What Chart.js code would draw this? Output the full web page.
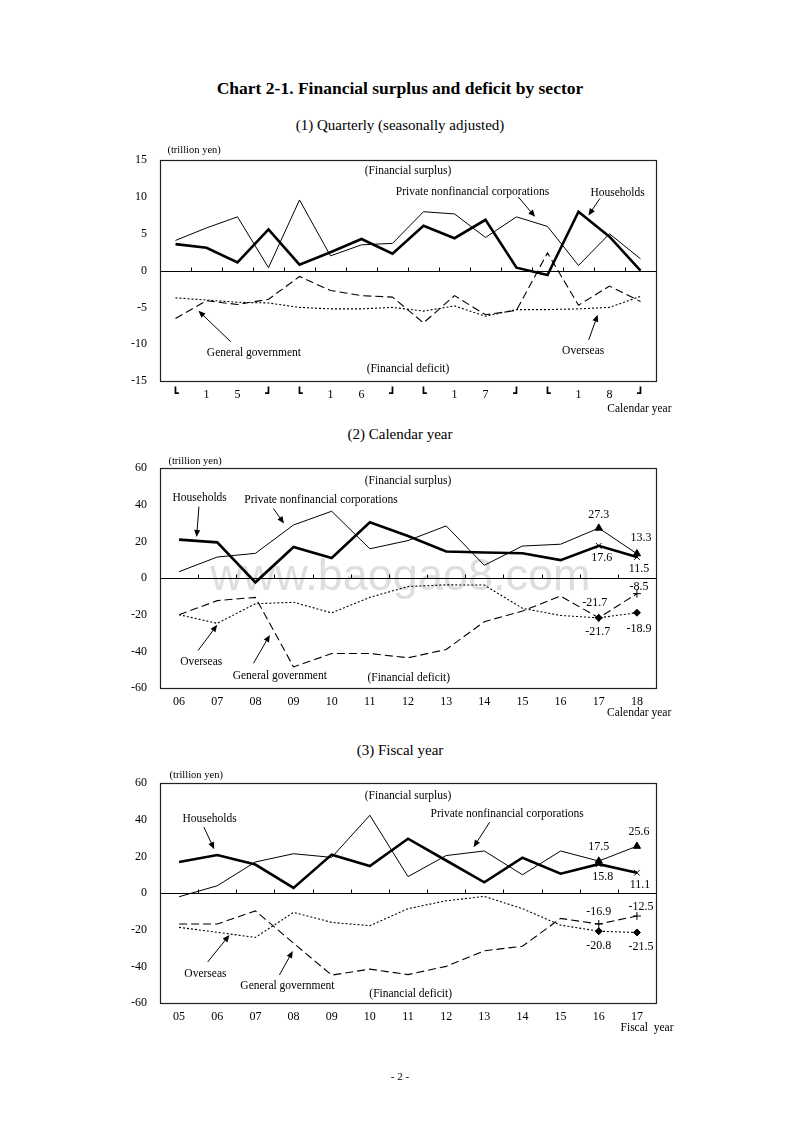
<!DOCTYPE html>
<html><head><meta charset="utf-8">
<script src="https://cdn.jsdelivr.net/npm/chart.js@4.4.1/dist/chart.umd.min.js"></script>
<style>
html,body{margin:0;padding:0;background:#fff;}
body{width:800px;height:1132px;position:relative;font-family:"Liberation Serif","Times New Roman",serif;color:#000;}
.t{position:absolute;left:0;width:800px;text-align:center;white-space:nowrap;}
.c{position:absolute;left:0;width:800px;}
</style></head><body>
<div class="t" style="top:78px;font-size:17.5px;font-weight:bold;">Chart 2-1. Financial surplus and deficit by sector</div>
<div class="t" style="top:117px;font-size:15px;">(1) Quarterly (seasonally adjusted)</div>
<div class="t" style="top:426px;font-size:15px;">(2) Calendar year</div>
<div class="t" style="top:742px;font-size:15px;">(3) Fiscal year</div>
<div class="t" style="top:1070px;font-size:11px;">- 2 -</div>
<div class="c" style="top:140px;height:285px;"><canvas id="c1"></canvas></div>
<div class="c" style="top:448px;height:284px;"><canvas id="c2"></canvas></div>
<div class="c" style="top:763px;height:284px;"><canvas id="c3"></canvas></div>
<script>
// ---------- DATA ----------
const qLabels = ['┗','1','5','┛','┗','1','6','┛','┗','1','7','┛','┗','1','8','┛'];
const qHouseholds   = [3.6,3.1,1.1,5.6,0.8,2.5,4.3,2.3,6.1,4.4,6.9,0.4,-0.6,8.0,4.6,0.0];
const qCorporations = [4.1,5.8,7.3,0.4,9.6,2.0,3.5,3.7,8.0,7.7,4.5,7.3,6.0,0.7,5.0,1.6];
const qGovernment   = [-6.5,-4.1,-4.6,-3.9,-0.8,-2.7,-3.4,-3.6,-7.1,-3.4,-6.0,-5.4,2.4,-4.7,-2.1,-4.2];
const qOverseas     = [-3.7,-4.0,-4.3,-4.4,-5.0,-5.2,-5.2,-5.0,-5.5,-4.8,-6.2,-5.3,-5.3,-5.2,-5.0,-3.5];
const qTicks = [-15,-10,-5,0,5,10,15];

const cyLabels = ['06','07','08','09','10','11','12','13','14','15','16','17','18'];
const cyHouseholds   = [21,19.5,-2.3,17,11,30.5,23,14.5,14,13.6,9.8,17.6,11.5];
const cyCorporations = [3.5,11.5,13.5,29,36.5,16,20.5,28.5,7,17.5,18.5,27.3,13.3];
const cyGovernment   = [-20,-12.3,-10.5,-48.5,-41.2,-41.2,-43.5,-39,-23.8,-18,-9.8,-21.7,-8.5];
const cyOverseas     = [-20,-24.7,-14,-13.2,-19,-10.5,-4.6,-3.7,-3.8,-16.5,-20.4,-21.7,-18.9];

const fyLabels = ['05','06','07','08','09','10','11','12','13','14','15','16','17'];
const fyHouseholds   = [17,20.8,15.6,2.8,21,14.8,29.7,17.8,5.9,19.3,10.6,15.8,11.1];
const fyCorporations = [-2,4,17,21.5,19.5,42.5,9,20.5,23,10,23,17.5,25.6];
const fyGovernment   = [-16.9,-16.9,-9.7,-27.3,-44.8,-41.5,-44.5,-40,-31.5,-29,-13.8,-16.9,-12.5];
const fyOverseas     = [-18.7,-21.4,-24.2,-10.5,-16,-17.8,-8.5,-4.2,-1.8,-8.5,-17.5,-20.8,-21.5];
const yearTicks = [-60,-40,-20,0,20,40,60];

// ---------- helpers ----------
const SERIF = '"Liberation Serif","Times New Roman",serif';
function radiusArr(n, r, count){ return Array.from({length:n},(_,i)=> i>=n-count ? r : 0); }

function datasets(h, c, g, o, markCount){
  const n = h.length;
  return [
    {label:'Private nonfinancial corporations', data:c, borderColor:'#000', backgroundColor:'#000', borderWidth:1,
     pointStyle:'triangle', pointRadius:radiusArr(n,4.2,markCount), pointBorderWidth:1},
    {label:'Households', data:h, borderColor:'#000', backgroundColor:'#000', borderWidth:2.6,
     pointStyle:'crossRot', pointRadius:radiusArr(n,4,markCount), pointBorderWidth:1},
    {label:'General government', data:g, borderColor:'#000', backgroundColor:'#000', borderWidth:1.1, borderDash:[8,4],
     pointStyle:'cross', pointRadius:radiusArr(n,4,markCount), pointBorderWidth:1},
    {label:'Overseas', data:o, borderColor:'#000', backgroundColor:'#000', borderWidth:1.1, borderDash:[2,2],
     pointStyle:'rectRot', pointRadius:radiusArr(n,3.5,markCount), pointBorderWidth:1}
  ];
}

function overlay(opts){
  return {
    id:'overlay',
    beforeDatasetsDraw(chart){
      const {ctx, chartArea:a, scales:{x,y}} = chart;
      if(opts.watermark){
        ctx.save();
        ctx.font = '45px "Liberation Sans",Arial,sans-serif';
        ctx.fillStyle = '#dedede';
        ctx.textAlign='center'; ctx.textBaseline='middle';
        ctx.fillText(opts.watermark.text, x.getPixelForValue(opts.watermark.x), y.getPixelForValue(opts.watermark.y));
        ctx.restore();
      }
      const y0 = Math.round(y.getPixelForValue(0))+0.5;
      const n = chart.data.labels.length;
      ctx.save(); ctx.strokeStyle='#000'; ctx.lineWidth=1; ctx.setLineDash([]);
      ctx.beginPath(); ctx.moveTo(a.left,y0); ctx.lineTo(a.right,y0);
      for(let i=1;i<n;i++){ const px=Math.round(a.left+i*(a.right-a.left)/n)+0.5; ctx.moveTo(px,y0); ctx.lineTo(px,y0-4); }
      ctx.stroke(); ctx.restore();
    },
    afterDraw(chart){
      const {ctx, chartArea:a, scales:{x,y}} = chart;
      ctx.save();
      ctx.strokeStyle='#222'; ctx.lineWidth=1.2; ctx.setLineDash([]);
      ctx.strokeRect(Math.round(a.left)+0.5, Math.round(a.top)+0.5, Math.round(a.right-a.left), Math.round(a.bottom-a.top));
      ctx.fillStyle='#000'; ctx.textBaseline='middle';
      (opts.texts||[]).forEach(t=>{
        ctx.font = (t.size||11.5)+'px '+SERIF;
        ctx.textAlign = t.align||'center';
        ctx.fillText(t.text, x.getPixelForValue(t.x), y.getPixelForValue(t.y));
      });
      (opts.arrows||[]).forEach(ar=>{
        const x1=x.getPixelForValue(ar[0]), y1=y.getPixelForValue(ar[1]);
        const x2=x.getPixelForValue(ar[2]), y2=y.getPixelForValue(ar[3]);
        const ang=Math.atan2(y2-y1,x2-x1), L=7, W=3;
        ctx.strokeStyle='#000'; ctx.lineWidth=1;
        ctx.beginPath(); ctx.moveTo(x1,y1); ctx.lineTo(x2-Math.cos(ang)*L*0.8,y2-Math.sin(ang)*L*0.8); ctx.stroke();
        ctx.beginPath();
        ctx.moveTo(x2,y2);
        ctx.lineTo(x2-Math.cos(ang)*L+Math.sin(ang)*W, y2-Math.sin(ang)*L-Math.cos(ang)*W);
        ctx.lineTo(x2-Math.cos(ang)*L-Math.sin(ang)*W, y2-Math.sin(ang)*L+Math.cos(ang)*W);
        ctx.closePath(); ctx.fill();
      });
      (opts.values||[]).forEach(v=>{
        const ds = chart.data.datasets[v.ds];
        const val = ds.data[v.i];
        const px = x.getPixelForValue(v.i)+v.dx, py = y.getPixelForValue(val)+v.dy;
        ctx.font = '12px '+SERIF; ctx.textAlign='center';
        ctx.fillText(val.toFixed(1), px, py);
      });
      ctx.restore();
    }
  };
}

function makeChart(id, labels, dsets, ticks, opts){
  const min = ticks[0], max = ticks[ticks.length-1], step = ticks[1]-ticks[0];
  return new Chart(document.getElementById(id), {
    type:'line',
    data:{labels:labels, datasets:dsets},
    options:{
      responsive:true, maintainAspectRatio:false, animation:false,
      layout:{padding:{left:100, right:144, top:20, bottom:20}},
      plugins:{legend:{display:false}, tooltip:{enabled:false}},
      elements:{line:{tension:0}},
      scales:{
        x:{type:'category', offset:true, grid:{display:false, drawTicks:false}, border:{display:false},
           afterFit:s=>{s.height=24;},
           ticks:{color:'#000', padding:7, maxRotation:0, autoSkip:false,
             font:(c)=>{ const l = labels[c.index]; return (l==='┗'||l==='┛') ? {family:'"DejaVu Sans",sans-serif', size:11} : {family:SERIF, size:12}; }}},
        y:{min:min, max:max, grid:{display:false, drawTicks:false}, border:{display:false},
           afterFit:s=>{s.width=60;},
           afterBuildTicks:s=>{ s.ticks = ticks.map(v=>({value:v})); },
           ticks:{color:'#000', padding:13, stepSize:step, font:{family:SERIF, size:12}}}
      }
    },
    plugins:[overlay(opts)]
  });
}

// ---------- Chart 1: quarterly ----------
makeChart('c1', qLabels, datasets(qHouseholds,qCorporations,qGovernment,qOverseas,0), qTicks, {
  texts:[
    {text:'(trillion yen)', x:-0.26, y:16.4, align:'left', size:10.5},
    {text:'(Financial surplus)', x:7.5, y:13.6},
    {text:'Private nonfinancial corporations', x:9.58, y:10.65},
    {text:'Households', x:14.26, y:10.5},
    {text:'General government', x:2.53, y:-11.2},
    {text:'Overseas', x:13.15, y:-10.9},
    {text:'(Financial deficit)', x:7.5, y:-13.3},
    {text:'Calendar year', x:16.0, y:-18.8, align:'right'}
  ],
  arrows:[[11.06,10.0,11.6,7.3],[13.69,9.8,13.32,7.5],[1.78,-9.66,0.74,-5.46],[13.33,-9.4,13.62,-6.0]]
});

// ---------- Chart 2: calendar year ----------
makeChart('c2', cyLabels, datasets(cyHouseholds,cyCorporations,cyGovernment,cyOverseas,2), yearTicks, {
  watermark:{text:'www.baogao8.com', x:5.8, y:0.5},
  texts:[
    {text:'(trillion yen)', x:-0.28, y:63.8, align:'left', size:10.5},
    {text:'(Financial surplus)', x:6.0, y:53},
    {text:'Households', x:0.54, y:43.6},
    {text:'Private nonfinancial corporations', x:3.72, y:42.5},
    {text:'Overseas', x:0.58, y:-45.8},
    {text:'General government', x:2.64, y:-53.5},
    {text:'(Financial deficit)', x:6.02, y:-54.6},
    {text:'Calendar year', x:12.9, y:-73.5, align:'right'}
  ],
  arrows:[[0.52,39,0.46,22.5],[2.47,38,2.75,29.8],[0.5,-39.5,1.0,-25.5],[1.95,-46.5,2.38,-31]],
  values:[
    {ds:0,i:11,dx:0,dy:-13},{ds:0,i:12,dx:4,dy:-16},
    {ds:1,i:11,dx:3,dy:12},{ds:1,i:12,dx:2,dy:12},
    {ds:2,i:12,dx:2,dy:-7},{ds:2,i:11,dx:-4,dy:-15},
    {ds:3,i:11,dx:-1,dy:14},{ds:3,i:12,dx:2,dy:16}
  ]
});

// ---------- Chart 3: fiscal year ----------
makeChart('c3', fyLabels, datasets(fyHouseholds,fyCorporations,fyGovernment,fyOverseas,2), yearTicks, {
  texts:[
    {text:'(trillion yen)', x:-0.25, y:64.4, align:'left', size:10.5},
    {text:'(Financial surplus)', x:6.0, y:52.9},
    {text:'Households', x:0.8, y:40.4},
    {text:'Private nonfinancial corporations', x:8.6, y:43.1},
    {text:'Overseas', x:0.69, y:-44.2},
    {text:'General government', x:2.84, y:-50.7},
    {text:'(Financial deficit)', x:6.07, y:-55.1},
    {text:'Fiscal  year', x:12.96, y:-73.6, align:'right'}
  ],
  arrows:[[0.65,36,0.92,24],[8.14,38.7,7.72,25.1],[0.75,-37.6,1.32,-22.9],[2.63,-44.7,2.98,-31.6]],
  values:[
    {ds:0,i:11,dx:0,dy:-14},{ds:0,i:12,dx:2,dy:-14},
    {ds:1,i:11,dx:4,dy:13},{ds:1,i:12,dx:3,dy:12},
    {ds:2,i:11,dx:0,dy:-12},{ds:2,i:12,dx:4,dy:-9},
    {ds:3,i:11,dx:0,dy:15},{ds:3,i:12,dx:4,dy:14}
  ]
});
</script>
</body></html>
